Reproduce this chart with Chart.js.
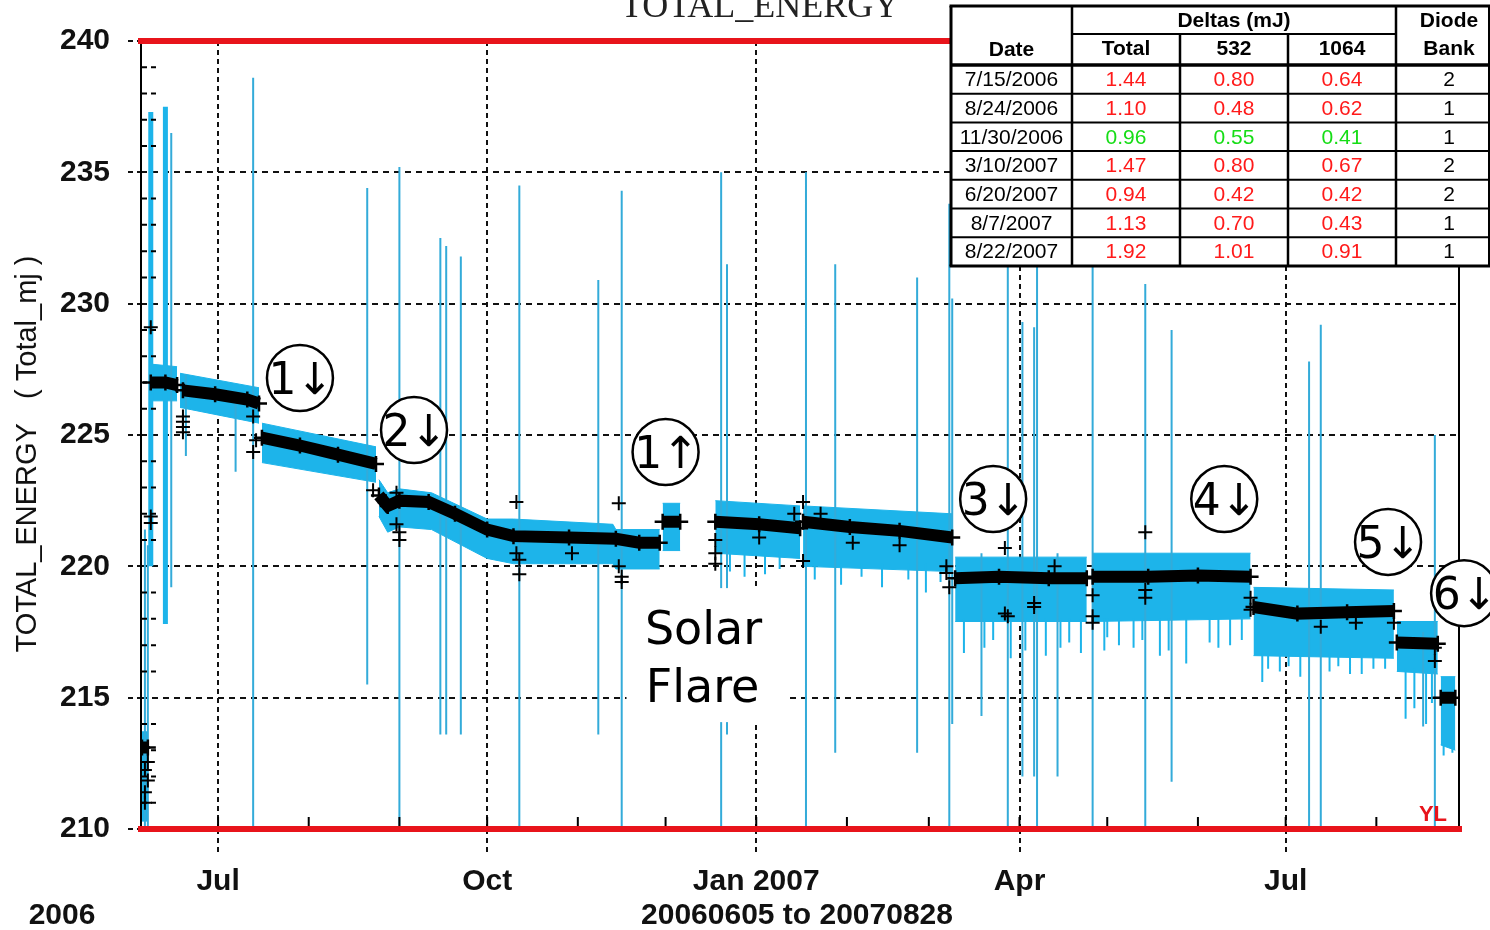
<!DOCTYPE html>
<html>
<head>
<meta charset="utf-8">
<script src="https://cdn.jsdelivr.net/npm/chart.js@4/dist/chart.umd.min.js"></script>
<style>
  html, body { margin: 0; padding: 0; background: #fff; }
  canvas { display: block; }
</style>
</head>
<body>
<canvas id="chart" width="1490" height="930"></canvas>
<script>
// ---------------- data ----------------
const xTickDates  = ['2006-07-01', '2006-10-01', '2007-01-01', '2007-04-01', '2007-07-01'];
const xTickLabels = ['Jul', 'Oct', 'Jan 2007', 'Apr', 'Jul'];
const monthStarts = ['2006-07-01','2006-08-01','2006-09-01','2006-10-01','2006-11-01','2006-12-01',
                     '2007-01-01','2007-02-01','2007-03-01','2007-04-01','2007-05-01','2007-06-01',
                     '2007-07-01','2007-08-01'];
const limitLines = [210, 240];

// Daily mean TOTAL_ENERGY (mJ); null separates operating periods
const meanDates = [
  '2006-06-05','2006-06-07', null,
  '2006-06-08','2006-06-13','2006-06-17', null,
  '2006-06-19','2006-06-30','2006-07-11','2006-07-15', null,
  '2006-07-16','2006-07-29','2006-08-11','2006-08-24', null,
  '2006-08-25','2006-08-28','2006-09-01','2006-09-11','2006-09-20','2006-10-01','2006-10-10',
  '2006-10-29','2006-11-14','2006-11-22','2006-11-29', null,
  '2006-11-30','2006-12-06', null,
  '2006-12-18','2007-01-02','2007-01-16', null,
  '2007-01-17','2007-02-02','2007-02-19','2007-03-09', null,
  '2007-03-10','2007-03-25','2007-04-11','2007-04-24', null,
  '2007-04-26','2007-05-15','2007-06-01','2007-06-19', null,
  '2007-06-20','2007-07-05','2007-07-22','2007-08-07', null,
  '2007-08-08','2007-08-22', null,
  '2007-08-23','2007-08-28'
];
const meanValues = [
  213.1, 213.1, null,
  227.0, 227.0, 226.9, null,
  226.7, 226.55, 226.35, 226.2, null,
  224.9, 224.6, 224.25, 223.9, null,
  222.7, 222.3, 222.5, 222.45, 222.0, 221.4, 221.15,
  221.1, 221.05, 220.9, 220.9, null,
  221.7, 221.7, null,
  221.7, 221.6, 221.45, null,
  221.7, 221.5, 221.35, 221.1, null,
  219.55, 219.6, 219.55, 219.55, null,
  219.6, 219.6, 219.65, 219.6, null,
  218.45, 218.2, 218.25, 218.3, null,
  217.1, 217.05, null,
  215.0, 215.0
];

// Spread of individual shots around the mean (upper / lower envelope)
const bandDates = [
  '2006-06-05','2006-06-07', null,
  '2006-06-08','2006-06-17', null,
  '2006-06-18','2006-07-15', null,
  '2006-07-16','2006-08-24', null,
  '2006-08-25','2006-08-28','2006-09-01','2006-09-12','2006-10-01','2006-10-10','2006-11-13','2006-11-14','2006-11-29', null,
  '2006-11-30','2006-12-06', null,
  '2006-12-18','2007-01-16', null,
  '2007-01-17','2007-03-09', null,
  '2007-03-10','2007-04-24', null,
  '2007-04-26','2007-06-19', null,
  '2007-06-20','2007-08-07', null,
  '2007-08-08','2007-08-22', null,
  '2007-08-23','2007-08-28'
];
const bandHigh = [
  213.7, 213.7, null,
  227.7, 227.6, null,
  227.35, 226.8, null,
  225.45, 224.55, null,
  223.3, 222.8, 222.95, 222.8, 221.8, 221.8, 221.6, 221.4, 221.4, null,
  222.4, 222.4, null,
  222.5, 222.3, null,
  222.3, 222.0, null,
  220.35, 220.35, null,
  220.5, 220.5, null,
  219.2, 219.1, null,
  217.9, 217.9, null,
  215.8, 215.8
];
const bandLow = [
  210.3, 210.3, null,
  226.3, 226.3, null,
  226.05, 225.45, null,
  223.95, 223.2, null,
  221.9, 221.3, 221.5, 221.4, 220.3, 220.1, 220.1, 219.9, 219.9, null,
  220.6, 220.6, null,
  220.5, 220.3, null,
  220.0, 219.8, null,
  217.9, 217.9, null,
  217.9, 218.0, null,
  216.6, 216.5, null,
  216.0, 215.9, null,
  213.2, 213.0
];

// Single-shot excursions
const spikeDates = [
  '2006-06-06','2006-06-07','2006-06-15','2006-06-20','2006-07-07','2006-07-13','2006-08-21',
  '2006-09-01','2006-09-15','2006-09-17','2006-09-22','2006-10-12','2006-11-08','2006-11-16',
  '2006-12-20','2006-12-22','2007-01-18','2007-01-28','2007-02-25','2007-03-08','2007-03-09',
  '2007-03-19','2007-03-28','2007-04-02','2007-04-06','2007-04-07','2007-04-14','2007-04-26',
  '2007-05-14','2007-05-23','2007-07-09','2007-07-13','2007-08-17','2007-08-21'
];
const spikeLows = [
  210, 210, 219.2, 224.2, 223.6, 210, 215.5,
  210, 213.6, 213.6, 213.6, 210, 213.6, 210,
  210, 213.6, 210, 212.9, 212.9, 210, 214.0,
  214.3, 210, 212.0, 212.0, 210, 212.0, 210,
  210, 211.8, 210, 210, 213.9, 210
];
const spikeHighs = [
  221.4, 220.8, 236.5, 227.3, 226.5, 238.6, 234.4,
  235.2, 232.5, 232.2, 231.8, 234.5, 230.9, 234.3,
  235.0, 231.5, 235.0, 231.5, 231.0, 233.8, 230.2,
  220.5, 233.5, 229.3, 229.1, 233.5, 220.5, 233.5,
  230.75, 229.0, 227.8, 229.2, 217.5, 225.0
];
const wideSpikeDates = ['2006-06-08', '2006-06-13'];
const wideSpikeLows  = [220.0, 217.8];
const wideSpikeHighs = [237.3, 237.5];

// Low shots hanging below the spread
const dipDates = [
  '2006-12-23','2006-12-28','2007-01-04','2007-01-09',
  '2007-01-21','2007-01-30','2007-02-06','2007-02-13','2007-02-22','2007-02-28','2007-03-05',
  '2007-03-13','2007-03-20','2007-03-23','2007-03-29','2007-04-03','2007-04-10','2007-04-15','2007-04-18','2007-04-22',
  '2007-04-30','2007-05-01','2007-05-05','2007-05-10','2007-05-13','2007-05-19','2007-05-22','2007-05-28','2007-06-05','2007-06-08','2007-06-12','2007-06-16',
  '2007-06-23','2007-06-25','2007-06-29','2007-07-02','2007-07-06','2007-07-16','2007-07-19','2007-07-23','2007-07-27','2007-07-31','2007-08-04',
  '2007-08-11','2007-08-14','2007-08-18','2007-08-20',
  '2007-08-24','2007-08-27'
];
const dipLows = [
  219.8, 219.6, 219.7, 219.9,
  219.5, 219.3, 219.6, 219.2, 219.5, 219.0, 219.4,
  216.7, 216.9, 217.2, 216.5, 216.8, 216.6, 216.9, 217.1, 216.7,
  216.8, 217.3, 217.0, 216.9, 217.2, 216.6, 216.8, 216.3, 217.1, 216.9, 217.0, 217.2,
  215.6, 216.1, 216.0, 216.2, 215.8, 216.0, 216.2, 215.9, 215.9, 216.1, 216.1,
  214.2, 214.6, 214.0, 214.8,
  212.8, 212.9
];
const dipHighs = [
  220.6, 220.6, 220.6, 220.6,
  220.1, 220.1, 220.1, 220.1, 220.1, 220.1, 220.1,
  218.0, 218.0, 218.0, 218.0, 218.0, 218.0, 218.0, 218.0, 218.0,
  218.0, 218.0, 218.0, 218.0, 218.0, 218.0, 218.0, 218.0, 218.0, 218.0, 218.0, 218.0,
  216.7, 216.7, 216.7, 216.7, 216.7, 216.7, 216.7, 216.7, 216.7, 216.7, 216.7,
  216.1, 216.1, 216.1, 216.1,
  213.3, 213.3
];

// Daily means that fall away from the trend
const outlierDates = [
  '2006-06-08','2006-06-08','2006-06-08','2006-06-06','2006-06-07','2006-06-06','2006-06-06','2006-06-07',
  '2006-06-19','2006-06-19','2006-06-19','2006-06-19','2006-07-13','2006-07-14','2006-07-13',
  '2006-08-23','2006-08-31','2006-08-31','2006-09-01','2006-09-01',
  '2006-10-11','2006-10-11','2006-10-12','2006-10-12','2006-10-30',
  '2006-11-15','2006-11-15','2006-11-16','2006-11-16',
  '2006-12-18','2006-12-18','2006-12-18','2007-01-02',
  '2007-01-14','2007-01-17','2007-01-17','2007-01-23','2007-02-03','2007-02-19',
  '2007-03-07','2007-03-07','2007-03-08',
  '2007-03-27','2007-03-27','2007-03-28','2007-04-06','2007-04-06','2007-04-13',
  '2007-04-26','2007-04-26','2007-04-26','2007-05-14','2007-05-14','2007-05-14',
  '2007-06-19','2007-06-19','2007-07-13','2007-07-25','2007-08-07','2007-08-21','2007-08-21'
];
const outlierValues = [
  229.1, 221.9, 221.65, 212.25, 211.85, 211.4, 211.0, 212.55,
  225.7, 225.3, 225.1, 225.5, 225.7, 224.8, 224.35,
  222.9, 222.8, 221.6, 221.3, 221.0,
  222.45, 220.5, 220.25, 219.7, 220.5,
  222.4, 220.0, 219.6, 219.4,
  221.0, 220.5, 220.1, 221.1,
  222.0, 222.45, 220.2, 222.0, 220.9, 220.8,
  219.75, 220.0, 219.2,
  220.7, 218.2, 218.1, 218.6, 218.45, 220.0,
  218.9, 218.1, 217.85, 221.3, 219.1, 218.8,
  218.8, 218.35, 217.7, 217.85, 217.85, 216.9, 216.4
];

// Energy drops / rises by event
const eventLabels = ['1\u2193', '2\u2193', '1\u2191', '3\u2193', '4\u2193', '5\u2193', '6\u2193'];
const eventDates  = ['2006-07-29', '2006-09-06', '2006-12-01', '2007-03-23', '2007-06-10', '2007-08-05', '2007-08-31'];
const eventLevels = [227.17, 225.19, 224.35, 222.56, 222.56, 220.93, 218.98];

const flareNote  = ['Solar', 'Flare'];
const flareDate  = '2006-12-15';
const flareLevel = 216.62;

// Deltas table
const tableDates  = ['7/15/2006', '8/24/2006', '11/30/2006', '3/10/2007', '6/20/2007', '8/7/2007', '8/22/2007'];
const deltaTotal  = [1.44, 1.10, 0.96, 1.47, 0.94, 1.13, 1.92];
const delta532    = [0.80, 0.48, 0.55, 0.80, 0.42, 0.70, 1.01];
const delta1064   = [0.64, 0.62, 0.41, 0.67, 0.42, 0.43, 0.91];
const diodeBank   = [2, 1, 1, 2, 2, 1, 1];
const deltaSign   = ['down', 'down', 'up', 'down', 'down', 'down', 'down'];

// ---------------- helpers ----------------
const T0 = Date.UTC(2006, 5, 5);
function dayOf(s) {
  return (Date.UTC(+s.slice(0, 4), +s.slice(5, 7) - 1, +s.slice(8, 10)) - T0) / 864e5;
}
const CYAN = '#1db4ea';
const SPIKE = '#33abd9';
const AXIS_FONT = '"Liberation Sans", Arial, sans-serif';

function verticalSegments(dates, lows, highs) {
  const idx = dates.map((d, i) => i).sort((a, b) => dayOf(dates[a]) - dayOf(dates[b]));
  const pts = [];
  idx.forEach(i => {
    const x = dayOf(dates[i]);
    pts.push({ x, y: lows[i] }, { x, y: highs[i] }, { x, y: null });
  });
  return pts;
}

const datasets = [];

// black daily means
datasets.push({
  label: 'mean',
  data: meanDates.map((d, i) => d === null ? { x: dayOf(meanDates[i - 1]) + 0.5, y: null } : { x: dayOf(d), y: meanValues[i] }),
  borderColor: '#000', backgroundColor: '#000', borderWidth: 12, borderCapStyle: 'butt',
  pointStyle: 'cross', pointRadius: 8, pointBorderWidth: 2.5, pointBorderColor: '#000',
  fill: false, spanGaps: false, order: 1
});
// outlier means
datasets.push({
  label: 'outliers',
  data: outlierDates.map((d, i) => ({ x: dayOf(d), y: outlierValues[i] })),
  showLine: false, pointStyle: 'cross', pointRadius: 7, pointBorderWidth: 2,
  pointBorderColor: '#000', backgroundColor: '#000', order: 0
});
// spikes and dips
datasets.push({
  label: 'spikes',
  data: verticalSegments(spikeDates, spikeLows, spikeHighs),
  borderColor: SPIKE, borderWidth: 2, pointRadius: 0, fill: false, spanGaps: false, order: 3
});
datasets.push({
  label: 'wide spikes',
  data: verticalSegments(wideSpikeDates, wideSpikeLows, wideSpikeHighs),
  borderColor: CYAN, borderWidth: 5, pointRadius: 0, fill: false, spanGaps: false, order: 3
});
datasets.push({
  label: 'dips',
  data: verticalSegments(dipDates, dipLows, dipHighs),
  borderColor: CYAN, borderWidth: 2, pointRadius: 0, fill: false, spanGaps: false, order: 3
});
// spread band: one low/high pair per operating period
{
  let seg = [];
  const flush = () => {
    if (!seg.length) return;
    datasets.push({
      label: 'band low', data: seg.map(i => ({ x: dayOf(bandDates[i]), y: bandLow[i] })),
      borderColor: CYAN, borderWidth: 1, pointRadius: 0, fill: false, order: 4
    });
    datasets.push({
      label: 'band high', data: seg.map(i => ({ x: dayOf(bandDates[i]), y: bandHigh[i] })),
      borderColor: CYAN, borderWidth: 1, pointRadius: 0, fill: '-1', backgroundColor: CYAN, order: 4
    });
    seg = [];
  };
  bandDates.forEach((d, i) => { if (d === null) flush(); else seg.push(i); });
  flush();
}

// ---------------- decorations ----------------
const decor = {
  id: 'decor',
  afterDraw(chart) {
    const { ctx, chartArea: a, scales: { x, y } } = chart;
    ctx.save();

    // axis frame
    ctx.strokeStyle = '#000';
    ctx.lineWidth = 2;
    ctx.beginPath();
    ctx.moveTo(a.left, a.top); ctx.lineTo(a.left, a.bottom);
    ctx.moveTo(a.right, a.top); ctx.lineTo(a.right, a.bottom);
    ctx.stroke();

    // minor y ticks (every 1 mJ)
    ctx.setLineDash([6, 4]);
    for (let v = 211; v < 240; v++) {
      if (v % 5 === 0) continue;
      const py = y.getPixelForValue(v);
      ctx.beginPath(); ctx.moveTo(a.left, py); ctx.lineTo(a.left + 15, py); ctx.stroke();
    }
    ctx.setLineDash([]);

    // monthly ticks
    monthStarts.forEach(m => {
      const px = x.getPixelForValue(dayOf(m));
      ctx.beginPath(); ctx.moveTo(px, a.bottom); ctx.lineTo(px, a.bottom - 12); ctx.stroke();
    });

    // limit lines
    ctx.strokeStyle = '#e8141b';
    ctx.lineWidth = 6;
    limitLines.forEach(v => {
      const py = y.getPixelForValue(v);
      ctx.beginPath(); ctx.moveTo(a.left - 3, py); ctx.lineTo(a.right + 3, py); ctx.stroke();
    });

    ctx.fillStyle = '#e8141b';
    ctx.font = 'bold 22px ' + AXIS_FONT;
    ctx.textAlign = 'center'; ctx.textBaseline = 'middle';
    ctx.fillText('YL', a.right - 26, a.bottom - 14);

    // solar flare note
    {
      const cx = x.getPixelForValue(dayOf(flareDate));
      const cy = y.getPixelForValue(flareLevel);
      ctx.fillStyle = '#fff';
      ctx.fillRect(cx - 80, cy - 67, 162, 134);
      ctx.fillStyle = '#000';
      ctx.font = '46px "DejaVu Sans", sans-serif';
      ctx.textAlign = 'center'; ctx.textBaseline = 'alphabetic';
      ctx.fillText(flareNote[0], cx - 3, cy - 11);
      ctx.fillText(flareNote[1], cx - 4, cy + 47);
    }

    // event circles
    eventLabels.forEach((t, i) => {
      const cx = x.getPixelForValue(dayOf(eventDates[i]));
      const cy = y.getPixelForValue(eventLevels[i]);
      ctx.beginPath();
      ctx.arc(cx, cy, 33, 0, Math.PI * 2);
      ctx.fillStyle = '#fff'; ctx.fill();
      ctx.lineWidth = 2.5; ctx.strokeStyle = '#000'; ctx.stroke();
      ctx.fillStyle = '#000';
      ctx.font = '44px "DejaVu Sans", sans-serif';
      ctx.textAlign = 'center'; ctx.textBaseline = 'alphabetic';
      ctx.fillText(t, cx + 1, cy + 16);
    });

    // deltas table
    {
      const cols = [951, 1072, 1180, 1288, 1396, 1502];
      const top = 6, mid = 34, head = 65, rowH = 28.7;
      const bottom = head + rowH * tableDates.length;
      ctx.fillStyle = '#fff';
      ctx.fillRect(cols[0], top, 1490 - cols[0], bottom - top);
      const cx = k => (cols[k] + cols[k + 1]) / 2;

      ctx.fillStyle = '#000';
      ctx.textAlign = 'center'; ctx.textBaseline = 'middle';
      ctx.font = 'bold 21px ' + AXIS_FONT;
      ctx.fillText('Deltas (mJ)', (cols[1] + cols[4]) / 2, 21);
      ctx.fillText('Date', cx(0), 50);
      ctx.fillText('Total', cx(1), 49);
      ctx.fillText('532', cx(2), 49);
      ctx.fillText('1064', cx(3), 49);
      ctx.fillText('Diode', cx(4), 21);
      ctx.fillText('Bank', cx(4), 49);

      ctx.font = '21px ' + AXIS_FONT;
      tableDates.forEach((d, i) => {
        const ry = head + rowH * (i + 0.5) + 1;
        ctx.fillStyle = '#000';
        ctx.fillText(d, cx(0), ry);
        ctx.fillText(String(diodeBank[i]), cx(4), ry);
        ctx.fillStyle = deltaSign[i] === 'up' ? '#16dd16' : '#ff1a1a';
        ctx.fillText(deltaTotal[i].toFixed(2), cx(1), ry);
        ctx.fillText(delta532[i].toFixed(2), cx(2), ry);
        ctx.fillText(delta1064[i].toFixed(2), cx(3), ry);
      });

      ctx.strokeStyle = '#000';
      const hline = (y0, x0, x1, w) => { ctx.lineWidth = w; ctx.beginPath(); ctx.moveTo(x0, y0); ctx.lineTo(x1, y0); ctx.stroke(); };
      const vline = (x0, y0, y1, w) => { ctx.lineWidth = w; ctx.beginPath(); ctx.moveTo(x0, y0); ctx.lineTo(x0, y1); ctx.stroke(); };
      hline(top, cols[0] - 1.5, 1490, 3);
      hline(mid, cols[1], cols[4], 2);
      hline(head, cols[0], 1490, 3.5);
      for (let i = 1; i < tableDates.length; i++) hline(head + rowH * i, cols[0], 1490, 2);
      hline(bottom, cols[0] - 1.5, 1490, 3);
      vline(cols[0], top, bottom, 3);
      vline(cols[1], top, bottom, 2.5);
      vline(cols[2], mid, bottom, 2.5);
      vline(cols[3], mid, bottom, 2.5);
      vline(cols[4], top, bottom, 2.5);
      vline(1489, top, bottom, 2);
    }

    // titles
    ctx.fillStyle = '#222';
    ctx.textAlign = 'center'; ctx.textBaseline = 'alphabetic';
    ctx.font = '36px "Liberation Serif", "Times New Roman", serif';
    ctx.fillText('TOTAL_ENERGY', 760, 17);

    ctx.fillStyle = '#111';
    ctx.font = 'bold 30px ' + AXIS_FONT;
    ctx.textBaseline = 'middle';
    ctx.fillText('2006', 62, 916);
    ctx.fillText('20060605 to 20070828', 797, 916);

    ctx.save();
    ctx.translate(28, 454);
    ctx.rotate(-Math.PI / 2);
    ctx.font = '29px ' + AXIS_FONT;
    ctx.fillText('TOTAL_ENERGY   ( Total_mj )', 0, 0);
    ctx.restore();

    ctx.restore();
  }
};

// ---------------- chart ----------------
const gridCommon = { color: '#111', lineWidth: 2, tickColor: '#111', tickWidth: 2 };

new Chart(document.getElementById('chart'), {
  type: 'line',
  data: { datasets },
  options: {
    responsive: false,
    animation: false,
    devicePixelRatio: 1,
    layout: { padding: { top: 41, right: 31, left: 0, bottom: 0 } },
    plugins: { legend: { display: false }, tooltip: { enabled: false } },
    scales: {
      x: {
        type: 'linear',
        min: -1 / 2.925,
        max: -1 / 2.925 + 1318 / 2.925,
        z: 1,
        afterBuildTicks: s => { s.ticks = xTickDates.map(d => ({ value: dayOf(d) })); },
        afterFit: s => { s.height = 101; },
        ticks: {
          autoSkip: false, maxRotation: 0, padding: 9, color: '#111',
          font: { family: AXIS_FONT, size: 30, weight: 'bold' },
          callback: (v, i) => xTickLabels[i]
        },
        grid: Object.assign({ tickLength: 26, tickBorderDash: [5, 4] }, gridCommon),
        border: { display: false, dash: [5, 4] }
      },
      y: {
        min: 210, max: 240,
        z: 1,
        afterFit: s => { s.width = 141; },
        ticks: {
          stepSize: 5, padding: 18, color: '#111',
          font: { family: AXIS_FONT, size: 30, weight: 'bold' }
        },
        grid: Object.assign({ tickLength: 13, tickBorderDash: [5, 4] }, gridCommon),
        border: { display: false, dash: [6, 5] }
      }
    }
  },
  plugins: [decor]
});
</script>
</body>
</html>
